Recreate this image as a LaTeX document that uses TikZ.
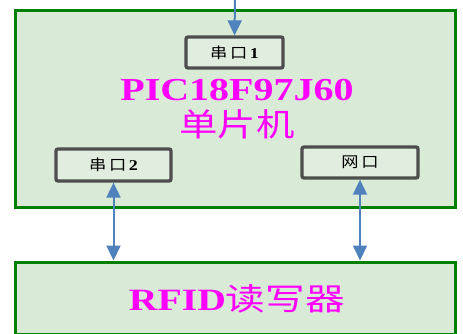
\documentclass[tikz,border=0pt]{standalone}
\usepackage{fontspec}
\setmainfont{Liberation Serif}
\newfontfamily\cjk{Noto Sans CJK SC}
\usetikzlibrary{arrows.meta,positioning}
\definecolor{boardgreen}{RGB}{0,128,0}
\definecolor{boardfill}{RGB}{217,234,215}
\definecolor{portgray}{RGB}{77,77,77}
\definecolor{linkblue}{RGB}{79,129,189}
\definecolor{titlepink}{RGB}{255,0,255}

\begin{document}
\begin{tikzpicture}[
    x=1pt, y=-1pt,
    board/.style={draw=boardgreen, line width=3pt, fill=boardfill, inner sep=0pt},
    port/.style={draw=portgray, line width=3.3pt, fill=boardfill!80!white, rounded corners=2pt, inner sep=0pt, font=\fontsize{15}{15}\selectfont},
    title/.style={text=titlepink, font=\bfseries\fontsize{32}{32}\selectfont},
    link/.style={line width=2pt, linkblue, {Triangle[length=15pt,width=14pt]}-{Triangle[length=15pt,width=14pt]}},
    feed/.style={line width=2pt, linkblue, -{Triangle[length=15pt,width=14pt]}}
]
    \useasboundingbox (0,0) rectangle (463,334);
    % boards
    \node[board, minimum width=440pt, minimum height=196pt] (mcu) at (235,109) {};
    \node[board, minimum width=440pt, minimum height=72pt] (reader) at (235,298) {};

    % ports on the MCU
    \node[port, minimum width=97pt, minimum height=31pt] (uart1) at (234.5,52.5) {\scalebox{1.15}[1]{\cjk 串\,口}\,\scalebox{1.2}[1]{\bfseries 1}};
    \node[port, minimum width=115pt, minimum height=32pt] (uart2) at (113.5,165) {\scalebox{1.15}[1]{\cjk 串\,口}\,\scalebox{1.2}[1]{\bfseries 2}};
    \node[port, minimum width=116pt, minimum height=31pt] (eth) at (360,162.5) {\scalebox{1.15}[1]{\cjk 网\,口}};

    % titles
    \node[title] (chip) at (237,90) {\scalebox{1.25}[1]{PIC18F97J60}};
    \node[title, below=2pt of chip] (chipcn) {\scalebox{1.2}[1]{\cjk\mdseries 单片机}};
    \node[title, font=\bfseries\fontsize{31}{31}\selectfont] (readertxt) at (237,299) {\scalebox{1.28}[1]{RFID{\cjk\mdseries 读写器}}};

    % links
    \coordinate (entry) at (235,0);
    \draw[feed] (entry) -- (uart1.north);
    \draw[link] (uart2.south) -- (uart2.south |- reader.north);
    \draw[link] (eth.south) -- (eth.south |- reader.north);
\end{tikzpicture}
\end{document}
